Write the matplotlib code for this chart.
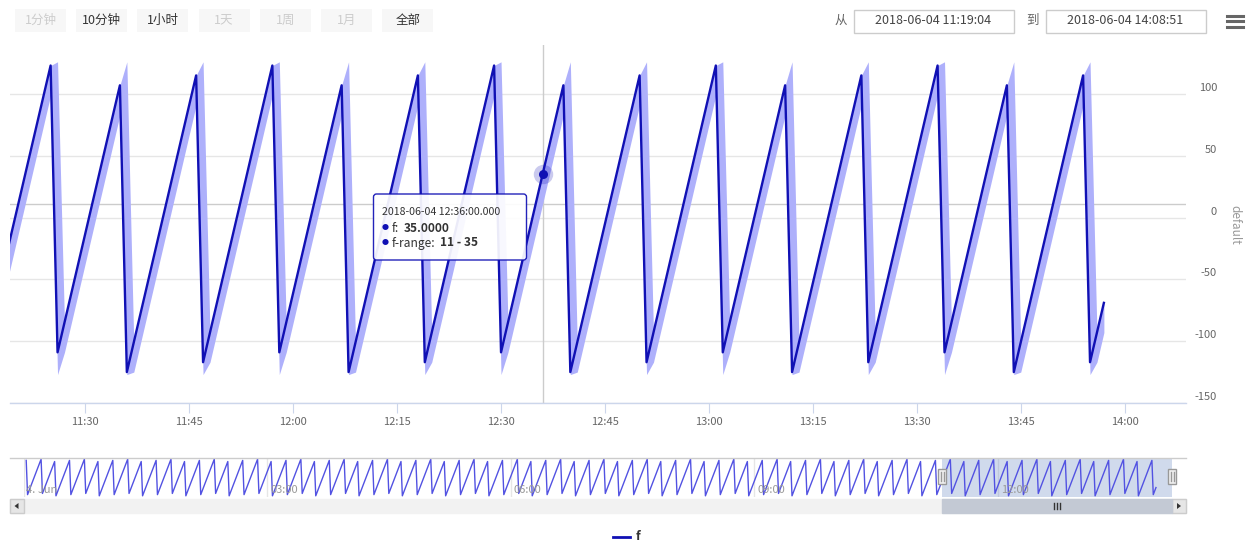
import matplotlib
matplotlib.use("Agg")
import matplotlib.pyplot as plt
import matplotlib.dates as mdates
from matplotlib.patches import Rectangle, FancyBboxPatch, Polygon
from matplotlib.lines import Line2D
from matplotlib.transforms import IdentityTransform
import pandas as pd

plt.rcParams['font.family'] = ['Noto Sans CJK SC', 'DejaVu Sans']

# ---------------------------------------------------------------- data
# series f, one reading per minute from 2018-06-04 00:02 to 13:57
f_start = "2018-06-04 00:02"
f_values = [
    115, -117, -93, -69, -45, -21, 3, 27, 51, 75, 99, 123,
    -109, -85, -61, -37, -13, 11, 35, 59, 83, 107, -125, -101, -77, -53, -29, -5, 19, 43, 67, 91, 115, -117, -93, -69, -45, -21, 3, 27, 51, 75, 99, 123,
    -109, -85, -61, -37, -13, 11, 35, 59, 83, 107, -125, -101, -77, -53, -29, -5, 19, 43, 67, 91, 115, -117, -93, -69, -45, -21, 3, 27, 51, 75, 99, 123,
    -109, -85, -61, -37, -13, 11, 35, 59, 83, 107, -125, -101, -77, -53, -29, -5, 19, 43, 67, 91, 115, -117, -93, -69, -45, -21, 3, 27, 51, 75, 99, 123,
    -109, -85, -61, -37, -13, 11, 35, 59, 83, 107, -125, -101, -77, -53, -29, -5, 19, 43, 67, 91, 115, -117, -93, -69, -45, -21, 3, 27, 51, 75, 99, 123,
    -109, -85, -61, -37, -13, 11, 35, 59, 83, 107, -125, -101, -77, -53, -29, -5, 19, 43, 67, 91, 115, -117, -93, -69, -45, -21, 3, 27, 51, 75, 99, 123,
    -109, -85, -61, -37, -13, 11, 35, 59, 83, 107, -125, -101, -77, -53, -29, -5, 19, 43, 67, 91, 115, -117, -93, -69, -45, -21, 3, 27, 51, 75, 99, 123,
    -109, -85, -61, -37, -13, 11, 35, 59, 83, 107, -125, -101, -77, -53, -29, -5, 19, 43, 67, 91, 115, -117, -93, -69, -45, -21, 3, 27, 51, 75, 99, 123,
    -109, -85, -61, -37, -13, 11, 35, 59, 83, 107, -125, -101, -77, -53, -29, -5, 19, 43, 67, 91, 115, -117, -93, -69, -45, -21, 3, 27, 51, 75, 99, 123,
    -109, -85, -61, -37, -13, 11, 35, 59, 83, 107, -125, -101, -77, -53, -29, -5, 19, 43, 67, 91, 115, -117, -93, -69, -45, -21, 3, 27, 51, 75, 99, 123,
    -109, -85, -61, -37, -13, 11, 35, 59, 83, 107, -125, -101, -77, -53, -29, -5, 19, 43, 67, 91, 115, -117, -93, -69, -45, -21, 3, 27, 51, 75, 99, 123,
    -109, -85, -61, -37, -13, 11, 35, 59, 83, 107, -125, -101, -77, -53, -29, -5, 19, 43, 67, 91, 115, -117, -93, -69, -45, -21, 3, 27, 51, 75, 99, 123,
    -109, -85, -61, -37, -13, 11, 35, 59, 83, 107, -125, -101, -77, -53, -29, -5, 19, 43, 67, 91, 115, -117, -93, -69, -45, -21, 3, 27, 51, 75, 99, 123,
    -109, -85, -61, -37, -13, 11, 35, 59, 83, 107, -125, -101, -77, -53, -29, -5, 19, 43, 67, 91, 115, -117, -93, -69, -45, -21, 3, 27, 51, 75, 99, 123,
    -109, -85, -61, -37, -13, 11, 35, 59, 83, 107, -125, -101, -77, -53, -29, -5, 19, 43, 67, 91, 115, -117, -93, -69, -45, -21, 3, 27, 51, 75, 99, 123,
    -109, -85, -61, -37, -13, 11, 35, 59, 83, 107, -125, -101, -77, -53, -29, -5, 19, 43, 67, 91, 115, -117, -93, -69, -45, -21, 3, 27, 51, 75, 99, 123,
    -109, -85, -61, -37, -13, 11, 35, 59, 83, 107, -125, -101, -77, -53, -29, -5, 19, 43, 67, 91, 115, -117, -93, -69, -45, -21, 3, 27, 51, 75, 99, 123,
    -109, -85, -61, -37, -13, 11, 35, 59, 83, 107, -125, -101, -77, -53, -29, -5, 19, 43, 67, 91, 115, -117, -93, -69, -45, -21, 3, 27, 51, 75, 99, 123,
    -109, -85, -61, -37, -13, 11, 35, 59, 83, 107, -125, -101, -77, -53, -29, -5, 19, 43, 67, 91, 115, -117, -93, -69, -45, -21, 3, 27, 51, 75, 99, 123,
    -109, -85, -61, -37, -13, 11, 35, 59, 83, 107, -125, -101, -77, -53, -29, -5, 19, 43, 67, 91, 115, -117, -93, -69, -45, -21, 3, 27, 51, 75, 99, 123,
    -109, -85, -61, -37, -13, 11, 35, 59, 83, 107, -125, -101, -77, -53, -29, -5, 19, 43, 67, 91, 115, -117, -93, -69, -45, -21, 3, 27, 51, 75, 99, 123,
    -109, -85, -61, -37, -13, 11, 35, 59, 83, 107, -125, -101, -77, -53, -29, -5, 19, 43, 67, 91, 115, -117, -93, -69, -45, -21, 3, 27, 51, 75, 99, 123,
    -109, -85, -61, -37, -13, 11, 35, 59, 83, 107, -125, -101, -77, -53, -29, -5, 19, 43, 67, 91, 115, -117, -93, -69, -45, -21, 3, 27, 51, 75, 99, 123,
    -109, -85, -61, -37, -13, 11, 35, 59, 83, 107, -125, -101, -77, -53, -29, -5, 19, 43, 67, 91, 115, -117, -93, -69, -45, -21, 3, 27, 51, 75, 99, 123,
    -109, -85, -61, -37, -13, 11, 35, 59, 83, 107, -125, -101, -77, -53, -29, -5, 19, 43, 67, 91, 115, -117, -93, -69, -45, -21, 3, 27, 51, 75, 99, 123,
    -109, -85, -61, -37, -13, 11, 35, 59, 83, 107, -125, -101, -77, -53, -29, -5, 19, 43, 67, 91, 115, -117, -93, -69, -45, -21, 3, 27, 51, 75, 99, 123,
    -109, -85, -61, -37, -13, 11, 35, 59, 83, 107, -125, -101, -77, -53, -29, -5, 19, 43, 67, 91, 115, -117, -93, -69,
]

# f-range (min / max inside each minute), 11:19 .. 13:57
range_start = "2018-06-04 11:19"
range_low = [
    -45, -21, 3, 27, 51, 75, 99,
    -127, -109, -85, -61, -37, -13, 11, 35, 59, 83, -127, -125, -101, -77, -53, -29, -5, 19, 43, 67, 91, -127, -117, -93, -69, -45, -21, 3, 27, 51, 75, 99,
    -127, -109, -85, -61, -37, -13, 11, 35, 59, 83, -127, -125, -101, -77, -53, -29, -5, 19, 43, 67, 91, -127, -117, -93, -69, -45, -21, 3, 27, 51, 75, 99,
    -127, -109, -85, -61, -37, -13, 11, 35, 59, 83, -127, -125, -101, -77, -53, -29, -5, 19, 43, 67, 91, -127, -117, -93, -69, -45, -21, 3, 27, 51, 75, 99,
    -127, -109, -85, -61, -37, -13, 11, 35, 59, 83, -127, -125, -101, -77, -53, -29, -5, 19, 43, 67, 91, -127, -117, -93, -69, -45, -21, 3, 27, 51, 75, 99,
    -127, -109, -85, -61, -37, -13, 11, 35, 59, 83, -127, -125, -101, -77, -53, -29, -5, 19, 43, 67, 91, -127, -117, -93,
]
range_high = [
    -21, 3, 27, 51, 75, 99, 123,
    126, -85, -61, -37, -13, 11, 35, 59, 83, 107, 126, -101, -77, -53, -29, -5, 19, 43, 67, 91, 115, 126, -93, -69, -45, -21, 3, 27, 51, 75, 99, 123,
    126, -85, -61, -37, -13, 11, 35, 59, 83, 107, 126, -101, -77, -53, -29, -5, 19, 43, 67, 91, 115, 126, -93, -69, -45, -21, 3, 27, 51, 75, 99, 123,
    126, -85, -61, -37, -13, 11, 35, 59, 83, 107, 126, -101, -77, -53, -29, -5, 19, 43, 67, 91, 115, 126, -93, -69, -45, -21, 3, 27, 51, 75, 99, 123,
    126, -85, -61, -37, -13, 11, 35, 59, 83, 107, 126, -101, -77, -53, -29, -5, 19, 43, 67, 91, 115, 126, -93, -69, -45, -21, 3, 27, 51, 75, 99, 123,
    126, -85, -61, -37, -13, 11, 35, 59, 83, 107, 126, -101, -77, -53, -29, -5, 19, 43, 67, 91, 115, 126, -93, -69,
]

view_from = "2018-06-04 11:19:04"
view_to = "2018-06-04 14:08:51"
hover_time = "2018-06-04 12:36"
pointer_value = 11
y_ticks = [-150, -100, -50, 0, 50, 100]
range_buttons = ["1分钟", "10分钟", "1小时", "1天", "1周", "1月", "全部"]
button_enabled = [False, True, True, False, False, False, True]
nav_hours = ["00:00", "03:00", "06:00", "09:00", "12:00"]
nav_labels = ["4. Jun", "03:00", "06:00", "09:00", "12:00"]

# ---------------------------------------------------------------- style
LINE = "#1010b4"
BAND = "#aeb0fb"
NAV_LINE = "#5252e2"
GRID = "#e6e6e6"
AXIS = "#ccd6eb"
LABEL = "#666666"

W, H = 1251, 544
fig = plt.figure(figsize=(W / 100, H / 100), dpi=100)
PX = IdentityTransform()


def rect(x0, y0, x1, y1, **kw):
    p = Rectangle((x0, H - y1), x1 - x0, y1 - y0, transform=PX, **kw)
    fig.add_artist(p)
    return p


def text(x, y, s, **kw):
    return fig.text(x, H - y, s, transform=PX, **kw)


def line(xs, ys, **kw):
    fig.add_artist(Line2D(xs, [H - y for y in ys], transform=PX, **kw))


t_f = pd.date_range(f_start, periods=len(f_values), freq="min")
t_r = pd.date_range(range_start, periods=len(range_low), freq="min")
x0, x1 = pd.Timestamp(view_from), pd.Timestamp(view_to)
day0 = pd.Timestamp("2018-06-04 00:00")

# ---------------------------------------------------------------- main plot
PL, PR, PT, PB = 9.5, 1186, 45, 403
ax = fig.add_axes([PL / W, 1 - PB / H, (PR - PL) / W, (PB - PT) / H])
ax.set_xlim(x0, x1)
ax.set_ylim(-150, 139.6)
ax.fill_between(t_r, range_low, range_high, color=BAND, lw=0, zorder=2)
ax.plot(t_f, f_values, color=LINE, lw=1.7, zorder=3, solid_joinstyle="round")

for s in ("top", "left", "right"):
    ax.spines[s].set_visible(False)
ax.spines["bottom"].set_color(AXIS)
ax.spines["bottom"].set_linewidth(1)
ax.set_yticks(y_ticks)
ax.yaxis.grid(True, color=GRID, lw=1)
ax.set_axisbelow(True)
ax.tick_params(axis="y", length=0, labelleft=False, labelright=False)
ax.xaxis.set_major_locator(mdates.MinuteLocator(byminute=[0, 15, 30, 45]))
ax.xaxis.set_major_formatter(mdates.DateFormatter("%H:%M"))
ax.tick_params(axis="x", direction="out", length=7.2, width=0.8, color=AXIS,
               labelcolor=LABEL, labelsize=8, pad=3)
for v in y_ticks:
    ax.annotate(str(v), xy=(1, v), xycoords=("axes fraction", "data"),
                xytext=(31, 6), textcoords="offset pixels", ha="right",
                va="center", fontsize=8, color=LABEL, annotation_clip=False)
text(1235, 225, "default", rotation=270, ha="center", va="center",
     fontsize=8.5, color="#999999")

# hover state: crosshairs, highlighted point
th = pd.Timestamp(hover_time)
hv = f_values[t_f.get_loc(th)]
ri = t_r.get_loc(th)
ax.axvline(th, color="#cccccc", lw=1, zorder=1)
ax.axhline(pointer_value, color="#cccccc", lw=1, zorder=1)
ax.plot([th], [hv], "o", ms=14, color=LINE, alpha=0.22, mec="none", zorder=4)
ax.plot([th], [hv], "o", ms=6.5, color=LINE, mec="none", zorder=5)

# tooltip
tip = FancyBboxPatch((373.5, H - 260), 153, 66, boxstyle="round,pad=0,rounding_size=3",
                     transform=PX, fc="white", ec=LINE, lw=1, alpha=0.92, zorder=10)
fig.add_artist(tip)
text(382, 212, th.strftime("%Y-%m-%d %H:%M:%S.000"), fontsize=7.6,
     color="#333333", va="center", zorder=11)
fig.canvas.draw()
rend = fig.canvas.get_renderer()
rows = [("f:", f"{hv:.4f}", 228), ("f-range:", f"{range_low[ri]} - {range_high[ri]}", 243)]
for lab, val, yy in rows:
    text(385.5, yy, "●", fontsize=5, color=LINE, va="center", ha="center", zorder=11)
    t1 = text(392, yy, lab, fontsize=8.6, color="#333333", va="center", zorder=11)
    w = t1.get_window_extent(rend).width
    text(392 + w + 4, yy, val, fontsize=8.6, color="#333333", weight="bold",
         va="center", zorder=11)

# ---------------------------------------------------------------- toolbar
for i, (lab, on) in enumerate(zip(range_buttons, button_enabled)):
    bx = 15 + i * 61.2
    rect(bx, 9, bx + 51, 32, fc="#f7f7f7", ec="none")
    text(bx + 25.5, 20.5, lab, ha="center", va="center", fontsize=9,
         color="#333333" if on else "#cccccc")

text(841, 20.5, "从", ha="center", va="center", fontsize=9, color="#666666")
rect(853.5, 9.5, 1013.5, 32.5, fc="white", ec="#cccccc", lw=1)
text(933.5, 20.5, x0.strftime("%Y-%m-%d %H:%M:%S"), ha="center", va="center",
     fontsize=9, color="#444444")
text(1032, 20.5, "到", ha="center", va="center", fontsize=9, color="#666666")
rect(1045.5, 9.5, 1205.5, 32.5, fc="white", ec="#cccccc", lw=1)
text(1125.5, 20.5, x1.strftime("%Y-%m-%d %H:%M:%S"), ha="center", va="center",
     fontsize=9, color="#444444")
for yy in (15.5, 21, 26.5):
    line([1227, 1243], [yy, yy], color="#666666", lw=2.2)

# ---------------------------------------------------------------- navigator
NL, NR, NT, NB = 23.5, 1172, 458, 497
nav = fig.add_axes([NL / W, 1 - NB / H, (NR - NL) / W, (NB - NT) / H])
nav.set_xlim(day0, x1)
nav.set_ylim(-133, 131)
nav.plot(t_f, f_values, color=NAV_LINE, lw=1, zorder=3)
for s in nav.spines.values():
    s.set_visible(False)
nav.set_yticks([])
nav.set_xticks([pd.Timestamp("2018-06-04 " + h) for h in nav_hours])
nav.xaxis.grid(True, color=GRID, lw=1)
nav.tick_params(axis="x", length=0, labelbottom=False)
for h, lab in zip(nav_hours, nav_labels):
    nav.annotate(lab, xy=(pd.Timestamp("2018-06-04 " + h), 0),
                 xycoords=("data", "axes fraction"), xytext=(3, 7),
                 textcoords="offset pixels", fontsize=8, color="#999999",
                 va="center", ha="left")
nav.axvspan(x0, x1, color=(102 / 255, 133 / 255, 194 / 255), alpha=0.3, lw=0, zorder=2)
line([PL, PR], [457.5, 457.5], color="#cccccc", lw=1)

# handles at both ends of the selected window
span = mdates.date2num(x1) - mdates.date2num(day0)
xa = NL + (NR - NL) * (mdates.date2num(x0) - mdates.date2num(day0)) / span
for hx in (xa, NR):
    rect(hx - 4, 469, hx + 4, 484, fc="#f2f2f2", ec="#999999", lw=1, zorder=12)
    line([hx - 1.5, hx - 1.5], [472, 481], color="#999999", lw=1, zorder=13)
    line([hx + 1.5, hx + 1.5], [472, 481], color="#999999", lw=1, zorder=13)

# scrollbar
rect(PL, 499, PR, 513, fc="#f2f2f2", ec="#f2f2f2", lw=1)
rect(PL, 499, PL + 14, 513, fc="#e6e6e6", ec="#cccccc", lw=1)
rect(PR - 14, 499, PR, 513, fc="#e6e6e6", ec="#cccccc", lw=1)
fig.add_artist(Polygon([[PL + 5, H - 506], [PL + 9, H - 503], [PL + 9, H - 509]],
                       closed=True, transform=PX, fc="#333333", ec="none"))
fig.add_artist(Polygon([[PR - 5, H - 506], [PR - 9, H - 503], [PR - 9, H - 509]],
                       closed=True, transform=PX, fc="#333333", ec="none"))
rect(xa, 499, NR, 513, fc="#c3c9d4", ec="#c3c9d4", lw=1)
cx = (xa + NR) / 2
for dx in (-3, 0, 3):
    line([cx + dx, cx + dx], [503, 509], color="#333333", lw=1)

# ---------------------------------------------------------------- legend
line([613, 630], [537, 537], color=LINE, lw=2)
text(636, 537, "f", fontsize=9, weight="bold", color="#333333", va="center")

fig.savefig("out.png", dpi=100, facecolor="white")
